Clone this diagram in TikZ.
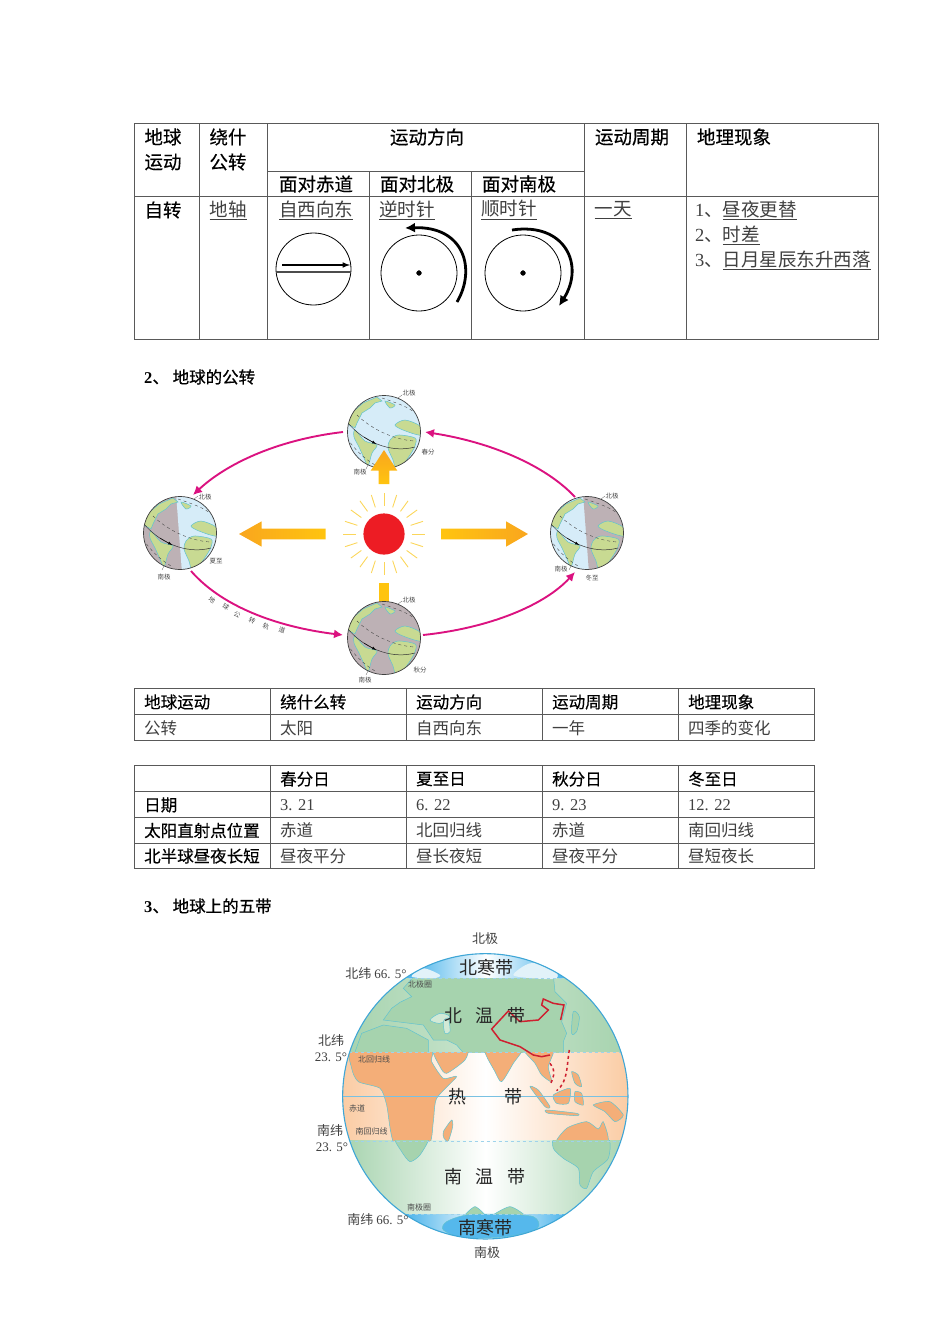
\documentclass[tikz,border=0pt]{standalone}
\usepackage{fontspec}
\usetikzlibrary{arrows.meta}
\setmainfont{Noto Sans CJK SC}
\newfontfamily\numfont{Liberation Serif}
\newfontfamily\semifont[FakeBold=0.35]{Noto Sans CJK SC}
\newfontfamily\heavyfont[FakeBold=0.7]{Noto Sans CJK SC}
\definecolor{orbit}{HTML}{DB1280}
\definecolor{landc}{HTML}{C8DA92}
\definecolor{coastc}{HTML}{62C3D0}
\definecolor{dayc}{HTML}{D6ECF8}
\definecolor{nightc}{HTML}{BDB1B5}
\definecolor{rimc}{HTML}{3FA6D6}
\definecolor{polec}{HTML}{55B8EC}
\definecolor{tempc}{HTML}{A6D3AE}
\definecolor{tropc}{HTML}{F4AE78}
\definecolor{peachc}{HTML}{FBCCA4}
\definecolor{arrowa}{HTML}{FFC40F}
\definecolor{arrowb}{HTML}{F9A61E}
\definecolor{rayc}{HTML}{FBD65A}
\definecolor{sunc}{HTML}{ED1C24}
\definecolor{borderc}{HTML}{CE2030}
\begin{document}
\begin{tikzpicture}[x=1pt,y=-1pt]
    \tikzset{>=latex}
    \tikzset{
        rule/.style={line width=0.9pt,black!65,xshift=-0.2pt,yshift=0.1pt},
        big/.style={inner sep=0pt,black!75,font=\fontsize{18.5}{20}\selectfont},
        bighead/.style={inner sep=0pt,font=\fontsize{18.5}{20}\selectfont\semifont},
        cell/.style={inner sep=0pt,anchor=west,black!75,font=\fontsize{16.5}{18}\selectfont},
        cellhead/.style={inner sep=0pt,anchor=west,font=\fontsize{16.5}{18}\selectfont\semifont},
        title/.style={inner sep=0pt,anchor=west,font=\fontsize{16.5}{18}\selectfont\heavyfont},
        tiny/.style={inner sep=0pt,black!70,font=\fontsize{6.5}{7}\selectfont},
        maplabel/.style={inner sep=0pt,black!75,font=\fontsize{13}{14}\selectfont},
        mapsmall/.style={inner sep=0pt,black!70,font=\fontsize{8}{9}\selectfont},
        zone/.style={inner sep=0pt,black!85,font=\fontsize{18}{20}\selectfont},
        orbitline/.style={-{Latex[length=9pt,width=9pt]},orbit,line width=1.9pt},
        spinline/.style={-{Latex[length=10pt,width=10pt]},line width=2.8pt},
        coast/.style={draw=coastc,line width=0.5pt},
        bandline/.style={rimc!50,dashed,line width=0.5pt},
        pics/globe/.style 2 args={code={
            \begin{scope}
                \clip (0,0) circle (36.5);
                \fill[#1] (-40,-40) rectangle (40,40);
                \fill[#2] (-4,-40) -- (2,40) -- (40,40) -- (40,-40) -- cycle;
                \draw[coast,fill=landc] (-29,-22) -- (-21,-29) -- (-7,-35) -- (-2,-31) -- (-9,-29) -- (-14,-24) -- (-22,-19) -- (-27,-9) -- (-29,-4) -- (-40,-10) -- (-40,-30) -- cycle;
                \draw[coast,fill=landc] plot[smooth cycle,tension=0.5] coordinates {(-29,-2) (-19,9) (-7,13) (-12,21) (-16,34) (-20,26) (-25,15) (-30,5)};
                \draw[coast,fill=landc] plot[smooth cycle,tension=0.5] coordinates {(6,8) (14,3) (31,6) (31,14) (24,26) (13,39) (9,28) (4,16)};
                \draw[coast,fill=landc] plot[smooth cycle,tension=0.5] coordinates {(11,-7) (21,-12) (36,-6) (36,3) (19,-2)};
                \draw[coast,fill=landc] plot[smooth cycle,tension=0.5] coordinates {(1,-31) (11,-27) (6,-24)};
                \draw[black!70,line width=0.4pt,dashed] (-2,-34) .. controls (10,-30) and (25,-25) .. (31,-19);
                \draw[black!70,line width=0.4pt,dashed] (-27,-17) .. controls (-15,-5) and (8,8) .. (31,9);
                \draw[black!80,line width=0.5pt] (-36,-9) .. controls (-22,8) and (5,22) .. (31,15);
                \draw[black!70,line width=0.4pt,dashed] (-37,6) .. controls (-28,20) and (-15,30) .. (-7,34);
                \draw[black,line width=0.4pt,->] (-20,5) -- (-8,12);
            \end{scope}
            \draw[black!75,line width=0.7pt] (0,0) circle (36.5);
            \draw[black!60,line width=0.3pt] (14,-34) -- (18,-37);
            \draw[black!60,line width=0.3pt] (-16,33) -- (-18,37);
        }}
    }
    \useasboundingbox (0,0) rectangle (950,1344);

    % first table
    \draw[rule] (135,124) rectangle (879,340);
    \draw[rule] (135,197) -- (879,197);
    \draw[rule] (268,172) -- (585,172);
    \draw[rule] (200,124) -- (200,340);
    \draw[rule] (268,124) -- (268,340);
    \draw[rule] (370,172) -- (370,340);
    \draw[rule] (472,172) -- (472,340);
    \draw[rule] (585,124) -- (585,340);
    \draw[rule] (687,124) -- (687,340);
    \node[bighead] (earthA) at (163,137) {地球};
    \node[bighead] (moveA) at (163,162) {运动};
    \node[bighead] (aroundA) at (228,137) {绕什};
    \node[bighead] (turnA) at (228,162) {公转};
    \node[bighead] (dirA) at (427,137) {运动方向};
    \node[bighead] (periodA) at (632,137) {运动周期};
    \node[bighead] (sceneA) at (734,137) {地理现象};
    \node[bighead] (faceE) at (316,184) {面对赤道};
    \node[bighead] (faceN) at (417,184) {面对北极};
    \node[bighead] (faceS) at (519,184) {面对南极};
    \node[bighead] (spin) at (163,210) {自转};
    \node[big] (axis) at (228,210) {\underline{地轴}};
    \node[big] (westeast) at (316,210) {\underline{自西向东}};
    \node[big] (ccw) at (407,210) {\underline{逆时针}};
    \node[big] (cw) at (509,210) {\underline{顺时针}};
    \node[big] (day) at (613,210) {\underline{一天}};
    \node[big,anchor=west] (sceneOne) at (695,210) {{\numfont 1}、\underline{昼夜更替}};
    \node[big,anchor=west] (sceneTwo) at (695,235) {{\numfont 2}、\underline{时差}};
    \node[big,anchor=west] (sceneThree) at (695,260) {{\numfont 3}、\underline{日月星辰东升西落}};

    % spin circles
    \draw[line width=0.8pt] (313.5,269) ellipse (37.5 and 36);
    \draw[line width=1.1pt,black!70] (276,272) -- (351,272);
    \draw[->,line width=1.5pt] (282,265) -- (350,265);
    \draw[line width=0.8pt] (419,273) circle (38);
    \filldraw (419,273) circle (2.4);
    \draw[spinline] (457,302) .. controls (476,270) and (465,226) .. (405,228);
    \draw[line width=0.8pt] (523,273) circle (38);
    \filldraw (523,273) circle (2.4);
    \draw[spinline] (512,230) .. controls (565,222) and (585,265) .. (559,306);

    \node[title] (titleOrbit) at (144,377) {{\numfont\bfseries 2}、 地球的公转};

    % sun and rays
    \fill[sunc] (384,534) circle (20.6);
    \begin{scope}[shift={(384,534)}]
        \foreach \ang in {0,18,...,342} {
            \draw[rayc,line width=0.9pt] (\ang:28) -- (\ang:41);
        }
    \end{scope}

    % yellow arrows
    \shade[left color=arrowb,right color=arrowa] (239,534) -- (261.7,521.3) -- (261.7,528.7) -- (325.7,528.7) -- (325.7,539.3) -- (261.7,539.3) -- (261.7,546.7) -- cycle;
    \shade[left color=arrowa,right color=arrowb] (528,534) -- (506,521.3) -- (506,528.7) -- (441,528.7) -- (441,539.3) -- (506,539.3) -- (506,546.7) -- cycle;
    \fill[arrowa] (378.7,583) rectangle (389.3,604);

    % globes
    \coordinate (Spring) at (384,432);
    \coordinate (Summer) at (180,533);
    \coordinate (Winter) at (587,533);
    \coordinate (Autumn) at (384,638);
    \pic at (Spring) {globe={dayc}{dayc}};
    \pic at (Summer) {globe={nightc}{dayc}};
    \pic at (Winter) {globe={dayc}{nightc}};
    \pic at (Autumn) {globe={nightc}{nightc}};
    \shade[bottom color=arrowa,top color=arrowb] (384,450) -- (370.7,470.7) -- (378.7,470.7) -- (378.7,484) -- (389.3,484) -- (389.3,470.7) -- (397.3,470.7) -- cycle;

    % orbit
    \coordinate (SpringW) at (343,432);
    \coordinate (SpringE) at (425,432);
    \coordinate (SummerN) at (193,495);
    \coordinate (SummerS) at (191,571);
    \coordinate (WinterN) at (575,497);
    \coordinate (WinterS) at (575,572);
    \coordinate (AutumnW) at (343,635);
    \coordinate (AutumnE) at (423,635);
    \draw[orbitline] (SpringW) .. controls (275,440) and (225,465) .. (SummerN);
    \draw[orbitline] (WinterN) .. controls (545,465) and (490,442) .. (SpringE);
    \draw[orbitline] (SummerS) .. controls (225,610) and (285,628) .. (AutumnW);
    \draw[orbitline] (AutumnE) .. controls (490,628) and (545,605) .. (WinterS);

    \node[tiny] (northA) at (409,393) {北极};
    \node[tiny] (springL) at (428,452) {春分};
    \node[tiny] (southA) at (360,472) {南极};
    \node[tiny] (northB) at (205,497) {北极};
    \node[tiny] (summerL) at (216,561) {夏至};
    \node[tiny] (southB) at (164,577) {南极};
    \node[tiny] (northC) at (612,496) {北极};
    \node[tiny] (winterL) at (592,578) {冬至};
    \node[tiny] (southC) at (561,569) {南极};
    \node[tiny] (northD) at (409,600) {北极};
    \node[tiny] (autumnL) at (420,670) {秋分};
    \node[tiny] (southD) at (365,680) {南极};
    \node[tiny,rotate=-32] (pathA) at (212,600) {地};
    \node[tiny,rotate=-28] (pathB) at (226,607) {球};
    \node[tiny,rotate=-26] (pathC) at (237,615) {公};
    \node[tiny,rotate=-24] (pathD) at (252,621) {转};
    \node[tiny,rotate=-22] (pathE) at (266,626) {轨};
    \node[tiny,rotate=-18] (pathF) at (282,630) {道};

    % second table
    \draw[rule] (135,689) rectangle (815,741);
    \draw[rule] (135,715) -- (815,715);
    \draw[rule] (271,689) -- (271,741);
    \draw[rule] (407,689) -- (407,741);
    \draw[rule] (543,689) -- (543,741);
    \draw[rule] (679,689) -- (679,741);
    \node[cellhead] (headA) at (144,702) {地球运动};
    \node[cellhead] (headB) at (280,702) {绕什么转};
    \node[cellhead] (headC) at (416,702) {运动方向};
    \node[cellhead] (headD) at (552,702) {运动周期};
    \node[cellhead] (headE) at (688,702) {地理现象};
    \node[cell] (revA) at (144,728) {公转};
    \node[cell] (revB) at (280,728) {太阳};
    \node[cell] (revC) at (416,728) {自西向东};
    \node[cell] (revD) at (552,728) {一年};
    \node[cell] (revE) at (688,728) {四季的变化};

    % third table
    \draw[rule] (135,766) rectangle (815,869);
    \draw[rule] (135,792) -- (815,792);
    \draw[rule] (135,818) -- (815,818);
    \draw[rule] (135,844) -- (815,844);
    \draw[rule] (271,766) -- (271,869);
    \draw[rule] (407,766) -- (407,869);
    \draw[rule] (543,766) -- (543,869);
    \draw[rule] (679,766) -- (679,869);
    \node[cellhead] (chunfen) at (280,779) {春分日};
    \node[cellhead] (xiazhi) at (416,779) {夏至日};
    \node[cellhead] (qiufen) at (552,779) {秋分日};
    \node[cellhead] (dongzhi) at (688,779) {冬至日};
    \node[cellhead] (rowDate) at (144,805) {日期};
    \node[cellhead] (rowSun) at (144,830.5) {太阳直射点位置};
    \node[cellhead] (rowDay) at (144,856) {北半球昼夜长短};
    \node[cell] (dateA) at (280,805) {\numfont 3. 21};
    \node[cell] (dateB) at (416,805) {\numfont 6. 22};
    \node[cell] (dateC) at (552,805) {\numfont 9. 23};
    \node[cell] (dateD) at (688,805) {\numfont 12. 22};
    \node[cell] (sunA) at (280,830.5) {赤道};
    \node[cell] (sunB) at (416,830.5) {北回归线};
    \node[cell] (sunC) at (552,830.5) {赤道};
    \node[cell] (sunD) at (688,830.5) {南回归线};
    \node[cell] (dayA) at (280,856) {昼夜平分};
    \node[cell] (dayB) at (416,856) {昼长夜短};
    \node[cell] (dayC) at (552,856) {昼夜平分};
    \node[cell] (dayD) at (688,856) {昼短夜长};

    \node[title] (titleZones) at (144,906) {{\numfont\bfseries 3}、 地球上的五带};

    % zone map
    \begin{scope}[shift={(300,925)},x=0.3333pt,y=-0.3333pt]
        \begin{scope}
            \clip (556,514) circle (428);
            \fill[polec] (128,85) rectangle (985,160);
            \shade[left color=polec,right color=polec,middle color=white] (350,85) rectangle (770,160);
            \shade[left color=tempc,right color=tempc,middle color=tempc!60] (128,160) rectangle (985,383);
            \shade[left color=peachc,right color=peachc,middle color=white] (128,383) rectangle (985,648);
            \shade[left color=tempc,right color=tempc,middle color=white] (128,648) rectangle (985,868);
            \fill[polec] (128,868) rectangle (985,945);
            \shade[left color=polec,right color=polec,middle color=white] (330,868) rectangle (790,945);
            % north temperate land
            \begin{scope}
                \clip (128,160) rectangle (985,383);
                \draw[coast,fill=tempc] (250,285) -- (275,250) -- (300,232) -- (335,215) -- (310,190) -- (345,150) -- (760,150) -- (765,200) -- (800,235) -- (785,290) -- (800,325) -- (790,350) -- (790,395) -- (500,395) -- (470,360) -- (440,345) -- (400,345) -- (370,300) -- cycle;
                \draw[coast,fill=tempc] (160,395) -- (185,325) -- (250,300) -- (320,310) -- (385,345) -- (385,395) -- cycle;
                \draw[coast,fill=tempc!50] plot[smooth cycle] coordinates {(390,285) (420,265) (450,275) (420,295)};
                \draw[coast,fill=tempc!50] plot[smooth cycle] coordinates {(430,290) (445,280) (450,320) (435,325)};
                \draw[coast,fill=tempc] plot[smooth cycle] coordinates {(820,260) (838,275) (830,320) (815,325)};
            \end{scope}
            % tropic land
            \begin{scope}
                \clip (128,383) rectangle (985,648);
                \draw[coast,fill=tropc] plot[smooth cycle,tension=0.4] coordinates {(160,370) (385,370) (395,410) (430,460) (470,455) (410,520) (400,590) (385,660) (285,660) (260,540) (240,490) (175,470) (155,430)};
                \draw[coast,fill=tropc] plot[smooth cycle,tension=0.4] coordinates {(400,370) (500,370) (495,405) (440,445) (420,425)};
                \draw[coast,fill=tropc] plot[smooth cycle,tension=0.4] coordinates {(555,370) (665,370) (640,415) (605,470) (585,440)};
                \draw[coast,fill=tropc] plot[smooth cycle,tension=0.4] coordinates {(670,370) (760,370) (745,425) (755,470) (725,450) (705,415)};
                \draw[coast,fill=tropc] plot[smooth cycle,tension=0.4] coordinates {(690,485) (715,495) (750,545) (735,545)};
                \draw[coast,fill=tropc] plot[smooth cycle,tension=0.4] coordinates {(760,510) (810,490) (805,535) (770,535)};
                \draw[coast,fill=tropc] plot[smooth cycle,tension=0.4] coordinates {(740,555) (830,565) (830,572) (745,565)};
                \draw[coast,fill=tropc] plot[smooth cycle,tension=0.4] coordinates {(825,500) (845,505) (850,540) (825,530)};
                \draw[coast,fill=tropc] plot[smooth cycle,tension=0.4] coordinates {(815,440) (835,450) (845,485) (825,475)};
                \draw[coast,fill=tropc] plot[smooth cycle,tension=0.4] coordinates {(880,540) (930,530) (970,570) (945,590) (915,560)};
                \draw[coast,fill=tropc] plot[smooth cycle,tension=0.4] coordinates {(770,660) (800,610) (860,590) (895,612) (910,590) (920,660)};
                \draw[coast,fill=tropc] plot[smooth cycle,tension=0.4] coordinates {(430,620) (455,585) (458,605) (445,648) (432,640)};
            \end{scope}
            % south temperate land
            \begin{scope}
                \clip (128,648) rectangle (985,868);
                \draw[coast,fill=tempc] plot[smooth cycle,tension=0.4] coordinates {(285,635) (385,635) (360,690) (330,710) (305,680)};
                \draw[coast,fill=tempc] plot[smooth cycle,tension=0.4] coordinates {(770,635) (920,635) (925,700) (880,740) (860,790) (840,780) (835,730) (790,700) (760,670)};
                \draw[coast,fill=tempc] plot[smooth cycle,tension=0.4] coordinates {(490,880) (525,845) (560,880)};
                \draw[coast,fill=tempc] plot[smooth cycle,tension=0.4] coordinates {(570,880) (630,845) (680,880)};
            \end{scope}
            % polar land
            \draw[coast,fill=polec] plot[smooth cycle,tension=0.5] coordinates {(440,890) (500,870) (600,868) (700,875) (712,910) (620,935) (490,938) (430,915)};
            \fill[white!85!rimc] plot[smooth cycle,tension=0.5] coordinates {(640,150) (690,115) (760,125) (770,160) (700,160)};
            \fill[white!85!rimc] plot[smooth cycle,tension=0.5] coordinates {(335,155) (370,130) (420,150) (400,160)};
            % equator and band lines
            \draw[rimc!70,line width=0.5pt] (128,514) -- (985,514);
            \draw[bandline] (128,160) -- (985,160);
            \draw[bandline] (128,383) -- (985,383);
            \draw[bandline] (128,648) -- (985,648);
            \draw[bandline] (128,868) -- (985,868);
            % china border
            \draw[borderc,line width=1.5pt] (782,285) -- (792,240) -- (760,235) -- (730,222) -- (725,240) -- (745,255) -- (715,285) -- (660,290) -- (625,258) -- (600,285) -- (575,312) -- (600,345) -- (660,365) -- (700,390) -- (725,395) -- (750,390);
            \draw[borderc,dashed,line width=1.5pt] (808,375) .. controls (800,420) and (805,470) .. (770,497);
            \draw[borderc,dashed,line width=1.5pt] (750,415) .. controls (770,440) and (760,460) .. (750,480);
        \end{scope}
        \draw[rimc,line width=1.1pt] (556,514) circle (428);
    \end{scope}

    \node[maplabel] (poleN) at (485,939) {北极};
    \node[maplabel] (poleS) at (487,1253) {南极};
    \node[maplabel] (latA) at (376,974) {北纬 {\numfont 66. 5°}};
    \node[maplabel] (latB) at (331,1041) {北纬};
    \node[maplabel] (latBb) at (331,1057.5) {\numfont 23. 5°};
    \node[maplabel] (latC) at (330,1131) {南纬};
    \node[maplabel] (latCc) at (332,1147) {\numfont 23. 5°};
    \node[maplabel] (latD) at (378,1220) {南纬 {\numfont 66. 5°}};
    \node[mapsmall] (circleN) at (420,984) {北极圈};
    \node[mapsmall] (tropicN) at (374,1059) {北回归线};
    \node[mapsmall] (equator) at (357,1108.5) {赤道};
    \node[mapsmall] (tropicS) at (371.5,1131.5) {南回归线};
    \node[mapsmall] (circleS) at (419,1207) {南极圈};
    \node[zone] (coldN) at (486,968) {北寒带};
    \node[zone] (warmN) at (485,1015.5) {北\hspace{14pt}温\hspace{14pt}带};
    \node[zone] (hotA) at (457,1096.5) {热};
    \node[zone] (hotB) at (513,1096.5) {带};
    \node[zone] (warmS) at (485,1177) {南\hspace{14pt}温\hspace{14pt}带};
    \node[zone] (coldS) at (485,1228) {南寒带};
\end{tikzpicture}
\end{document}
